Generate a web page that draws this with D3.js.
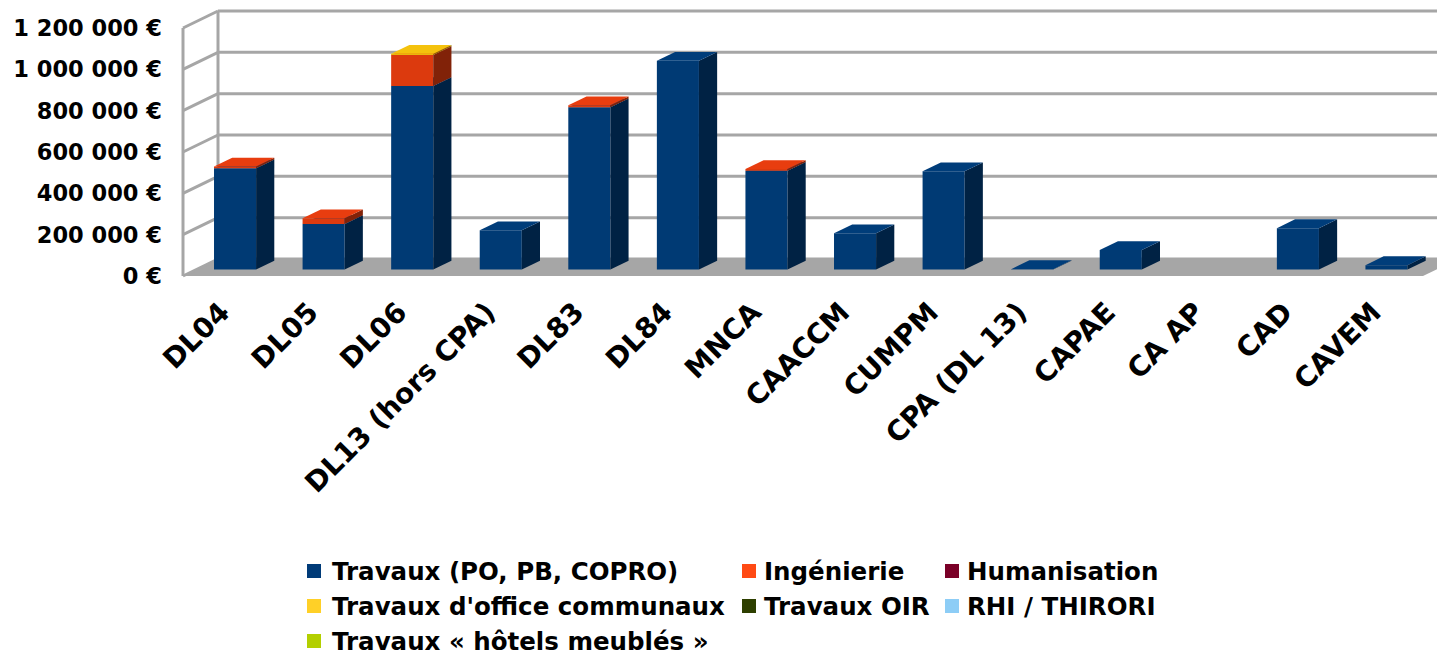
<!DOCTYPE html>
<html>
<head>
<meta charset="utf-8">
<script src="https://cdn.jsdelivr.net/npm/d3@7"></script>
<style>
  body { margin: 0; background: #fff; }
  text { font-family: "DejaVu Sans", sans-serif; font-weight: bold; fill: #000; }
</style>
</head>
<body>
<script>
const categories = ['DL04', 'DL05', 'DL06', 'DL13 (hors CPA)', 'DL83', 'DL84', 'MNCA',
  'CAACCM', 'CUMPM', 'CPA (DL 13)', 'CAPAE', 'CA AP', 'CAD', 'CAVEM'];

const seriesNames = ['Travaux (PO, PB, COPRO)', 'Ingénierie', 'Humanisation',
  "Travaux d'office communaux", 'Travaux OIR', 'RHI / THIRORI', 'Travaux « hôtels meublés »'];

const travaux    = [490000, 220000, 888000, 190000, 785000, 1010000, 478000, 175000, 475000, 2000, 94000, 0, 200000, 21000];
const ingenierie = [8000, 28000, 150000, 0, 10000, 0, 8000, 0, 0, 0, 0, 0, 0, 0];
const humanisation = [0, 0, 0, 0, 0, 0, 0, 0, 0, 0, 0, 0, 0, 0];
const officeCommunaux = [0, 0, 6000, 0, 0, 0, 0, 0, 0, 0, 0, 0, 0, 0];
const oir = [0, 0, 0, 0, 0, 0, 0, 0, 0, 0, 0, 0, 0, 0];
const rhi = [0, 0, 0, 0, 0, 0, 0, 0, 0, 0, 0, 0, 0, 0];
const hotels = [0, 0, 0, 0, 0, 0, 0, 0, 0, 0, 0, 0, 0, 0];

const yTicks = [0, 200000, 400000, 600000, 800000, 1000000, 1200000];

const colors = ['#003b78', '#ff4a14', '#7a0027', '#ffd027', '#2e3f00', '#8dcdf6', '#b3cf00'];
const faceFront = ['#003a74', '#dc3a0e', '#7a0027', '#e7b80c', '#2e3f00', '#8dcdf6', '#b3cf00'];

const W = 1437, H = 653;
const front = {left: 183, right: 1423, bottom: 276, top: 28};
const DX = 35, DY = 17;
const d0 = 0.38, d1 = 0.9;

const svg = d3.select('body').append('svg').attr('width', W).attr('height', H);

const x = d3.scaleBand().domain(categories).range([front.left, front.right]);
const y = d3.scaleLinear().domain([0, 1200000]).range([front.bottom, front.top]);

const P = (px, py, d) => [px + d * DX, py - d * DY];
const poly = pts => pts.map(p => p.join(',')).join(' ');

const grid = '#a6a6a6';

// floor
svg.append('polygon')
  .attr('points', poly([P(front.left, front.bottom, 0), P(front.left, front.bottom, 1),
    P(front.right, front.bottom, 1), P(front.right, front.bottom, 0)]))
  .attr('fill', grid);

// walls
yTicks.forEach(t => {
  const yy = y(t);
  svg.append('line')
    .attr('x1', P(front.left, yy, 1)[0]).attr('y1', P(front.left, yy, 1)[1])
    .attr('x2', P(front.right + 60, yy, 1)[0]).attr('y2', P(front.right, yy, 1)[1])
    .attr('stroke', grid).attr('stroke-width', 3);
  svg.append('line')
    .attr('x1', front.left).attr('y1', yy)
    .attr('x2', P(front.left, yy, 1)[0]).attr('y2', P(front.left, yy, 1)[1])
    .attr('stroke', grid).attr('stroke-width', 3);
});
svg.append('line')
  .attr('x1', front.left).attr('y1', front.top).attr('x2', front.left).attr('y2', front.bottom)
  .attr('stroke', grid).attr('stroke-width', 3);
svg.append('line')
  .attr('x1', front.left + DX).attr('y1', front.top - DY).attr('x2', front.left + DX).attr('y2', front.bottom - DY)
  .attr('stroke', grid).attr('stroke-width', 3);

// y labels
svg.append('g').selectAll('text').data(yTicks).join('text')
  .attr('x', 162).attr('y', d => y(d))
  .attr('dy', '0.36em')
  .attr('text-anchor', 'end')
  .style('font-size', '22.5px')
  .text(d => d3.format(',')(d).replace(/,/g, ' ') + ' €');

// bars
const series = [travaux, ingenierie, humanisation, officeCommunaux, oir, rhi, hotels];
const bw = x.bandwidth();
const barOff = bw * 0.2, barW = bw * 0.475;
const bars = svg.append('g');

categories.forEach((c, i) => {
  if (i === 11) return;
  let base = 0;
  series.forEach((s, k) => {
    const v = s[i];
    if (!v) return;
    const xl = x(c) + barOff, xr = xl + barW;
    const yb = y(base), yt = y(base + v);
    const g = bars.append('g');
    const fc = d3.color(faceFront[k]);
    g.append('polygon')
      .attr('points', poly([P(xl, yb, d0), P(xr, yb, d0), P(xr, yt, d0), P(xl, yt, d0)]))
      .attr('fill', fc);
    g.append('polygon')
      .attr('points', poly([P(xr, yb, d0), P(xr, yb, d1), P(xr, yt, d1), P(xr, yt, d0)]))
      .attr('fill', fc.darker(1.5));
    g.append('polygon')
      .attr('points', poly([P(xl, yt, d0), P(xr, yt, d0), P(xr, yt, d1), P(xl, yt, d1)]))
      .attr('fill', fc.brighter(0.15));
    base += v;
  });
});

// x labels
svg.append('g').selectAll('text').data(categories).join('text')
  .attr('transform', d => `translate(${x(d) + bw / 2 + 4},314) rotate(-45)`)
  .attr('text-anchor', 'end')
  .style('font-size', '28px')
  .text(d => d);

// legend
const legendPos = [[307, 571], [742, 571], [945, 571], [307, 606], [742, 606], [945, 606], [307, 641]];
const lg = svg.append('g').selectAll('g').data(seriesNames).join('g')
  .attr('transform', (d, i) => `translate(${legendPos[i][0]},${legendPos[i][1]})`);
lg.append('rect').attr('x', 0).attr('y', -7).attr('width', 14).attr('height', 14)
  .attr('fill', (d, i) => colors[i]);
lg.append('text').attr('x', d => 0).attr('dx', (d, i) => i % 3 === 0 && i !== 4 ? 25 : 22).attr('dy', '0.36em')
  .style('font-size', '24.5px')
  .text(d => d);
</script>
</body>
</html>
